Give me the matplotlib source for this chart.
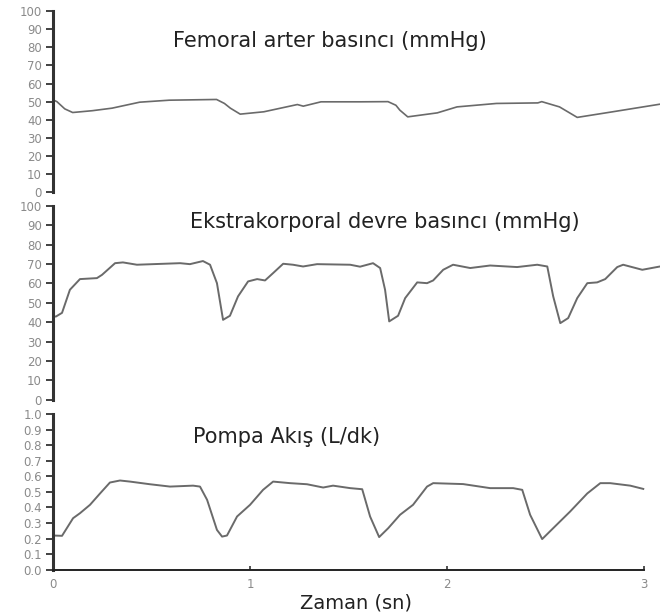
import matplotlib
matplotlib.use('Agg')
import matplotlib.pyplot as plt

# Femoral arter basinci (mmHg)
femoral_t = [0.00, 0.02, 0.06, 0.10, 0.20, 0.30, 0.44, 0.59, 0.83, 0.87, 0.90, 0.95,
             1.07, 1.24, 1.27, 1.36, 1.56, 1.70, 1.74, 1.76, 1.80, 1.95, 2.05, 2.25,
             2.46, 2.48, 2.57, 2.66, 2.84, 3.08]
femoral_p = [51.0, 50.0, 46.0, 44.0, 45.0, 46.4, 49.7, 50.8, 51.2, 49.0, 46.4, 43.1,
             44.4, 48.4, 47.5, 49.9, 49.9, 50.0, 48.0, 45.3, 41.6, 43.8, 47.1, 49.0,
             49.3, 50.0, 47.1, 41.3, 44.4, 48.6]

# Ekstrakorporal devre basinci (mmHg)
ekstra_t = [0.00, 0.015, 0.046, 0.086, 0.137, 0.223, 0.249, 0.315, 0.355, 0.426, 0.645,
            0.695, 0.761, 0.797, 0.832, 0.863, 0.898, 0.939, 0.990, 1.036, 1.076, 1.117,
            1.168, 1.218, 1.269, 1.340, 1.508, 1.558, 1.624, 1.660, 1.685, 1.706, 1.751,
            1.787, 1.848, 1.898, 1.929, 1.980, 2.030, 2.117, 2.218, 2.355, 2.457, 2.508,
            2.538, 2.574, 2.614, 2.660, 2.711, 2.761, 2.802, 2.863, 2.893, 2.990, 3.080]
ekstra_p = [43.0, 42.9, 44.8, 56.7, 62.2, 62.7, 64.4, 70.4, 70.8, 69.6, 70.4,
            69.9, 71.5, 69.6, 60.1, 41.2, 43.3, 53.3, 61.0, 62.2, 61.5, 65.3,
            70.1, 69.6, 68.7, 69.9, 69.6, 68.6, 70.4, 67.9, 56.7, 40.4, 43.3,
            52.4, 60.5, 60.1, 61.5, 67.0, 69.6, 67.9, 69.2, 68.4, 69.6, 68.7,
            53.3, 39.5, 42.1, 52.4, 60.1, 60.5, 62.2, 68.4, 69.6, 67.0, 68.7]

# Pompa akis (L/dk)
pompa_t = [0.00, 0.046, 0.102, 0.137, 0.188, 0.239, 0.289, 0.340, 0.391, 0.492, 0.594,
           0.711, 0.746, 0.782, 0.832, 0.858, 0.883, 0.934, 1.000, 1.066, 1.117, 1.203,
           1.289, 1.371, 1.421, 1.508, 1.569, 1.609, 1.655, 1.701, 1.761, 1.827, 1.898,
           1.929, 2.081, 2.218, 2.335, 2.381, 2.421, 2.482, 2.538, 2.624, 2.711, 2.777,
           2.827, 2.929, 2.995]
pompa_q = [0.22, 0.218, 0.331, 0.363, 0.417, 0.49, 0.56, 0.573, 0.566, 0.549, 0.534,
           0.54, 0.534, 0.449, 0.256, 0.213, 0.22, 0.342, 0.417, 0.513, 0.566, 0.556,
           0.549, 0.528, 0.54, 0.524, 0.517, 0.342, 0.21, 0.267, 0.353, 0.417, 0.534,
           0.556, 0.55, 0.524, 0.524, 0.513, 0.353, 0.197, 0.267, 0.374, 0.49, 0.556,
           0.556, 0.54, 0.519]

pressure_ticks = list(range(0, 101, 10))
flow_ticks = [i / 10 for i in range(11)]
time_ticks = [0, 1, 2, 3]

line_color = '#6a6a6a'
tick_color = '#8a8a8a'

fig = plt.figure(figsize=(6.62, 6.16), dpi=100)
left, width = 0.080, 0.917

ax1 = fig.add_axes([left, 0.688, width, 0.294])
ax2 = fig.add_axes([left, 0.351, width, 0.315])
ax3 = fig.add_axes([left, 0.075, width, 0.253])

ax1.plot(femoral_t, femoral_p, color=line_color, lw=1.2)
ax2.plot(ekstra_t, ekstra_p, color=line_color, lw=1.4)
ax3.plot(pompa_t, pompa_q, color=line_color, lw=1.4)

for ax in (ax1, ax2, ax3):
    ax.set_xlim(0, 3.08)
    for s in ('top', 'right'):
        ax.spines[s].set_visible(False)
    ax.spines['left'].set_linewidth(2.2)
    ax.spines['left'].set_color('#333333')
    ax.tick_params(axis='y', direction='out', length=5, width=1.3,
                   color='#333333', labelcolor=tick_color, labelsize=8.5, pad=3)

for ax in (ax1, ax2):
    ax.set_ylim(0, 100)
    ax.set_yticks(pressure_ticks)
    ax.spines['bottom'].set_visible(False)
    ax.set_xticks([])

ax3.set_ylim(0, 1.0)
ax3.set_yticks(flow_ticks)
ax3.set_yticklabels(['%.1f' % v for v in flow_ticks])
ax3.spines['bottom'].set_bounds(0, 3)
ax3.spines['bottom'].set_linewidth(1.4)
ax3.spines['bottom'].set_color('#222222')
ax3.set_xticks(time_ticks)
ax3.tick_params(axis='x', direction='in', length=3, width=1.2, color='#333333',
                labelcolor=tick_color, labelsize=8.5, pad=6)
ax3.set_xlabel('Zaman (sn)', fontsize=14, color='#222222', labelpad=2)

title_kw = dict(fontsize=15, color='#222222', ha='left', va='center')
fig.text(173 / 662, 1 - 41 / 616, 'Femoral arter basıncı (mmHg)', **title_kw)
fig.text(190 / 662, 1 - 222 / 616, 'Ekstrakorporal devre basıncı (mmHg)', **title_kw)
fig.text(193 / 662, 1 - 437 / 616, 'Pompa Akış (L/dk)', **title_kw)

fig.savefig('out.png', dpi=100)
